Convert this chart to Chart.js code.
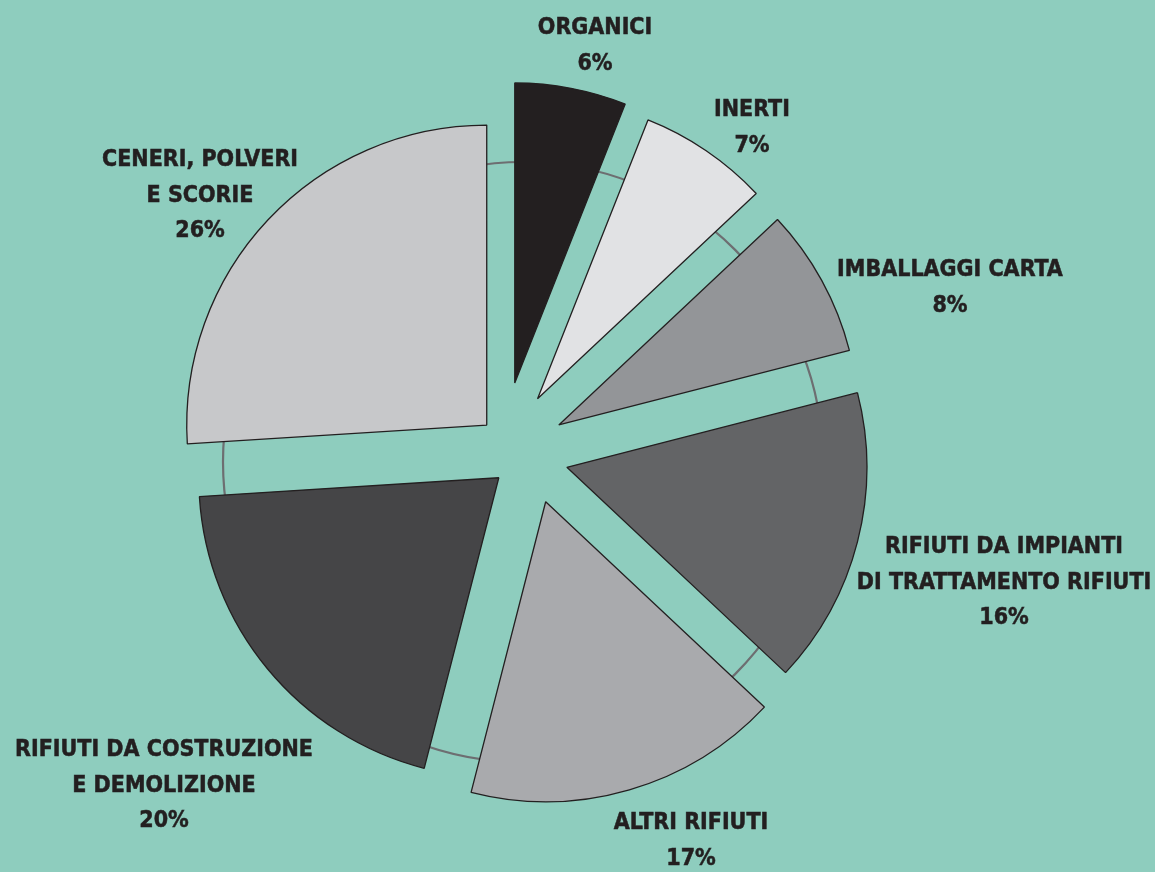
<!DOCTYPE html>
<html>
<head>
<meta charset="utf-8">
<title>Rifiuti</title>
<script src="https://cdn.jsdelivr.net/npm/chart.js@4.4.0/dist/chart.umd.min.js"></script>
<style>
  html, body { margin:0; padding:0; background:#8ecdbe; }
  #wrap { width:1155px; height:872px; }
</style>
</head>
<body>
<div id="wrap"><canvas id="pie" width="1155" height="872"></canvas></div>
<script>
// data
const categories = [
  ['ORGANICI'],
  ['INERTI'],
  ['IMBALLAGGI CARTA'],
  ['RIFIUTI DA IMPIANTI', 'DI TRATTAMENTO RIFIUTI'],
  ['ALTRI RIFIUTI'],
  ['RIFIUTI DA COSTRUZIONE', 'E DEMOLIZIONE'],
  ['CENERI, POLVERI', 'E SCORIE']
];
const values = [6, 7, 8, 16, 17, 20, 26];

// style
const colors = ['#231f20', '#e1e2e4', '#939598', '#636466', '#a9aaad', '#454547', '#c7c8ca'];
// each slice is pulled out by explodeDist px, in the direction of its middle turned by explodeTurn degrees
const explodeDist = [66, 55, 50, 55, 61, 33, 37];
const explodeTurn = [-11, -10, 0, 5, -14, -21, -3];
const labelAt = [[80,-403],[237,-321],[435,-161],[489,134],[176,392],[-351,337],[-315,-253]]; // from pie centre
const ringShift = [8, 13];                              // the grey guide circle sits a bit low-right
const FONT = 'bold 23px "DejaVu Sans Condensed", "DejaVu Sans", sans-serif';
const LINE_H = 35.5;

const explodePlugin = {
  id: 'explode',
  beforeDatasetDraw(chart, args){
    const ctx = chart.ctx, arcs = args.meta.data;
    const a0 = arcs[0];
    // thin ring of the un-exploded pie
    ctx.save();
    ctx.beginPath();
    ctx.arc(a0.x + ringShift[0], a0.y + ringShift[1], a0.outerRadius, 0, Math.PI*2);
    ctx.strokeStyle = '#6d6e71';
    ctx.lineWidth = 2.2;
    ctx.stroke();
    ctx.restore();
    arcs.forEach((arc,i)=>{
      const dir = (arc.startAngle + arc.endAngle)/2 + explodeTurn[i]*Math.PI/180;
      ctx.save();
      ctx.translate(Math.cos(dir)*explodeDist[i], Math.sin(dir)*explodeDist[i]);
      arc.draw(ctx);
      ctx.restore();
    });
    return false;
  }
};

const labelPlugin = {
  id: 'sliceLabels',
  afterDraw(chart){
    const ctx = chart.ctx;
    const a0 = chart.getDatasetMeta(0).data[0];
    ctx.save();
    ctx.font = FONT;
    ctx.fillStyle = '#231f20';
    ctx.strokeStyle = '#231f20';
    ctx.lineWidth = 0.5;
    ctx.textAlign = 'center';
    ctx.textBaseline = 'middle';
    categories.forEach((cat,i)=>{
      const lines = cat.concat([values[i] + '%']);
      const cx = a0.x + labelAt[i][0], cy = a0.y + labelAt[i][1];
      const top = cy - (lines.length-1)*LINE_H/2;
      lines.forEach((t,j)=>{
        ctx.fillText(t, cx, top + j*LINE_H);
        ctx.strokeText(t, cx, top + j*LINE_H);
      });
    });
    ctx.restore();
  }
};

new Chart(document.getElementById('pie'), {
  type: 'pie',
  data: {
    labels: categories.map(c=>c.join(' ')),
    datasets: [{
      data: values,
      backgroundColor: colors,
      borderColor: '#231f20',
      borderWidth: 1.3
    }]
  },
  options: {
    responsive: false,
    animation: false,
    devicePixelRatio: 1,
    radius: 300,
    layout: { padding: { left:0, right:125, top:26, bottom:0 } },
    plugins: { legend:{display:false}, tooltip:{enabled:false} }
  },
  plugins: [explodePlugin, labelPlugin]
});
</script>
</body>
</html>
